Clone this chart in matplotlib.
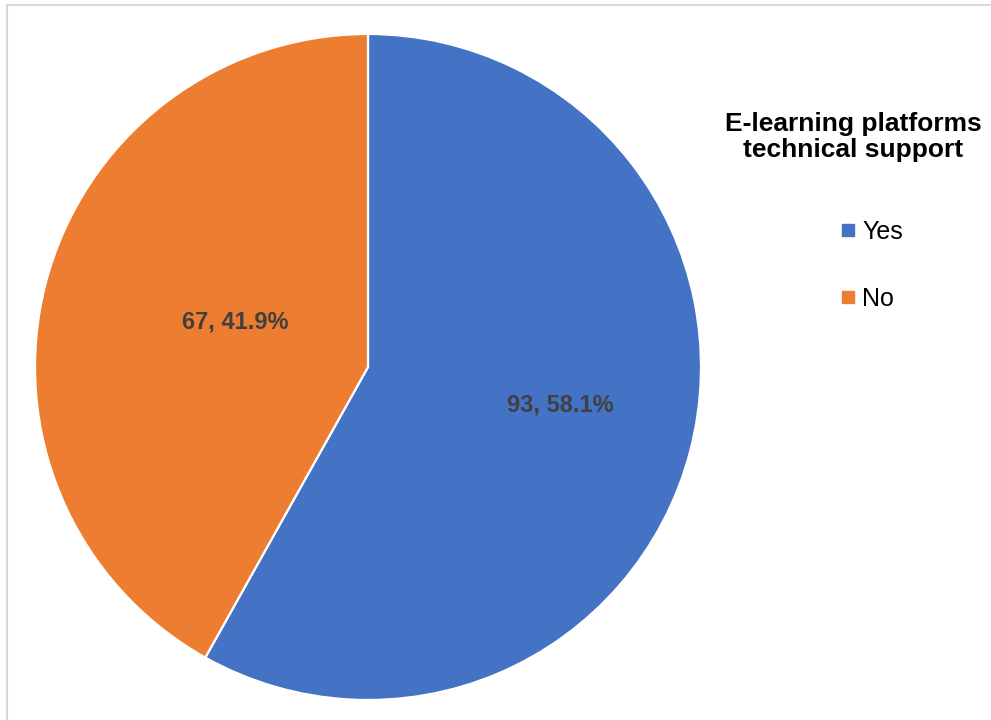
import numpy as np
import matplotlib.pyplot as plt
from matplotlib.lines import Line2D
from matplotlib.patches import Rectangle

plt.rcParams['font.family'] = ['Liberation Sans', 'DejaVu Sans']

# data
labels = ['Yes', 'No']
counts = [93, 67]
colors = ['#4472C4', '#ED7D31']
title = 'E-learning platforms\ntechnical support'

# label placement inside each wedge (fraction of radius, angle nudge in degrees)
label_r = [0.59, 0.42]
label_dtheta = [3.5, -4.0]

total = sum(counts)
pcts = [c / total * 100 for c in counts]

fig = plt.figure(figsize=(9.91, 7.2), dpi=100, facecolor='white')

# chart area frame (only top/left edges are in view)
fig.patches.append(Rectangle((7 / 991, -0.5), 2.0, 1.5 - 5 / 720,
                             transform=fig.transFigure, fill=False,
                             edgecolor='#d9d9d9', lw=1.5, zorder=0))

ax = fig.add_axes([35 / 991, 20 / 720, 666 / 991, 666 / 720])
wedges, _ = ax.pie(counts, colors=colors, startangle=90, counterclock=False,
                   radius=1.0,
                   wedgeprops=dict(edgecolor='white', linewidth=1.6))
ax.set_xlim(-1, 1)
ax.set_ylim(-1, 1)
ax.set_aspect('equal')
ax.axis('off')

for w, c, p, r, dt in zip(wedges, counts, pcts, label_r, label_dtheta):
    mid = np.deg2rad((w.theta1 + w.theta2) / 2 + dt)
    ax.text(r * np.cos(mid), r * np.sin(mid), f'{c}, {p:.1f}%',
            ha='center', va='center', fontsize=17, fontweight='bold',
            color='#404040')

fig.text(853 / 991, 1 - 137 / 720, title, ha='center', va='center',
         fontsize=19, fontweight='bold', color='black', linespacing=1.1)

handles = [Line2D([], [], marker='s', linestyle='none', markersize=8,
                  markerfacecolor=col, markeredgecolor=col) for col in colors]
fig.legend(handles, labels, loc='upper left',
           bbox_to_anchor=(840 / 991, 1 - 220 / 720), frameon=False,
           fontsize=18, labelspacing=1.7, handlelength=0.6,
           handletextpad=0.3, borderpad=0, borderaxespad=0)

fig.savefig('out.png', dpi=100, facecolor='white')
